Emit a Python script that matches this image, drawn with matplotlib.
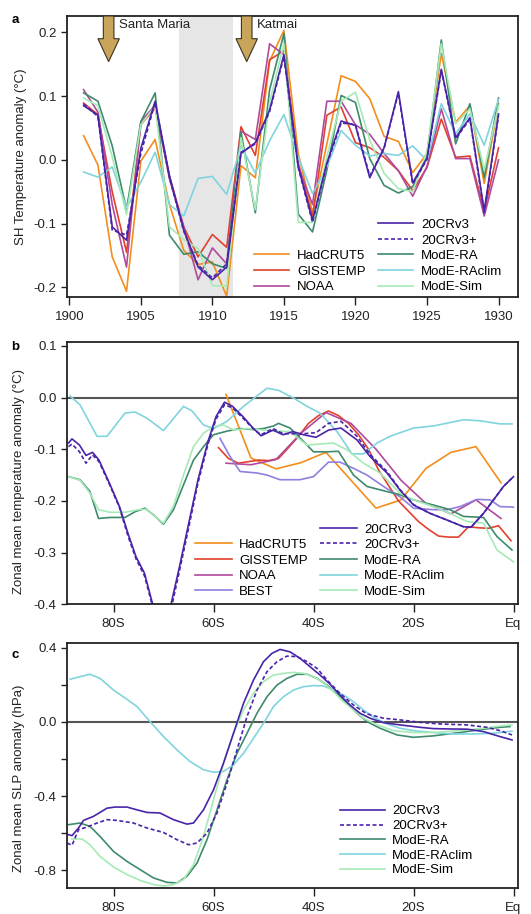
import matplotlib
matplotlib.use('Agg')
import matplotlib.pyplot as plt
from matplotlib.lines import Line2D
from matplotlib.patches import FancyArrow
from matplotlib.ticker import FixedLocator, FuncFormatter

plt.rcParams['font.family'] = ['Liberation Sans', 'DejaVu Sans']
plt.rcParams['font.size'] = 9.5
plt.rcParams['axes.unicode_minus'] = False

# ---- panel a: SH annual temperature anomaly 1901-1930 ----
years = list(range(1901, 1931))
a_hadcrut5 = [0.038, -0.008, -0.152, -0.206, -0.002, 0.032, -0.07, -0.142, -0.164, -0.160, -0.214,
              -0.009, -0.028, 0.155, 0.203, 0.01, -0.083, 0.025, 0.132, 0.123, 0.096, 0.037, 0.029,
              -0.02, 0.01, 0.167, 0.059, 0.085, -0.037, 0.088]
a_gisstemp = [0.089, 0.071, -0.05, -0.145, 0.055, 0.082, -0.025, -0.105, -0.152, -0.117, -0.137,
              0.052, 0.007, 0.157, 0.171, -0.005, -0.09, 0.07, 0.083, 0.027, 0.019, 0.004, -0.017,
              -0.048, -0.012, 0.064, 0.004, 0.006, -0.08, 0.019]
a_noaa = [0.11, 0.075, -0.07, -0.168, 0.06, 0.086, -0.03, -0.105, -0.188, -0.138, -0.163,
          0.045, 0.032, 0.182, 0.165, -0.01, -0.07, 0.092, 0.092, 0.055, 0.04, 0.01, -0.017,
          -0.057, -0.01, 0.08, 0.002, 0.002, -0.088, 0.0]
a_20crv3 = [0.085, 0.07, -0.105, -0.126, 0.018, 0.092, -0.025, -0.11, -0.168, -0.188, -0.168,
            0.01, 0.027, 0.078, 0.165, -0.01, -0.095, -0.005, 0.061, 0.054, -0.028, 0.019, 0.107,
            -0.036, 0.003, 0.142, 0.035, 0.066, -0.08, 0.072]
a_20crv3p = [0.088, 0.068, -0.11, -0.118, 0.01, 0.09, -0.028, -0.112, -0.165, -0.185, -0.163,
             0.012, 0.025, 0.076, 0.162, -0.012, -0.098, -0.007, 0.058, 0.055, -0.025, 0.018, 0.105,
             -0.038, 0.001, 0.14, 0.033, 0.064, -0.083, 0.07]
a_modera = [0.105, 0.092, 0.022, -0.078, 0.06, 0.105, -0.118, -0.148, -0.144, -0.163, -0.17,
            0.044, -0.083, 0.11, 0.198, -0.085, -0.113, -0.016, 0.101, 0.09, 0.002, -0.04, -0.052,
            -0.042, 0.004, 0.188, 0.025, 0.088, -0.028, 0.097]
a_moderaclim = [-0.019, -0.027, -0.011, -0.075, -0.035, 0.012, -0.07, -0.088, -0.029, -0.026, -0.054,
                0.022, -0.021, 0.03, 0.071, 0.004, -0.053, -0.011, 0.046, 0.023, 0.006, 0.01, 0.007,
                0.022, -0.001, 0.088, 0.041, 0.072, 0.023, 0.095]
a_modesim = [0.097, 0.085, 0.005, -0.086, 0.055, 0.085, -0.105, -0.125, -0.139, -0.197, -0.198,
             0.035, -0.078, 0.09, 0.182, -0.098, -0.098, 0.005, 0.092, 0.106, 0.031, -0.021, -0.045,
             -0.05, 0.013, 0.182, 0.057, 0.08, -0.016, 0.085]

# ---- panel b: zonal mean temperature anomaly ----
b_lat_had = [-57.5, -52.5, -47.5, -42.5, -37.5, -32.5, -27.5, -22.5, -17.5, -12.5, -7.5, -2.5]
b_hadcrut5 = [0.006, -0.117, -0.138, -0.126, -0.106, -0.16, -0.214, -0.198, -0.137, -0.106, -0.095, -0.165]
b_lat_giss = [-59, -57, -55, -53, -51, -49, -47, -45, -43, -41, -39, -37, -35, -33, -31, -29, -27,
              -25, -23, -21, -19, -17, -15, -13, -11, -9, -7, -5, -3, -0.5]
b_gisstemp = [-0.097, -0.118, -0.127, -0.124, -0.121, -0.122, -0.118, -0.097, -0.075, -0.05, -0.035,
              -0.026, -0.035, -0.05, -0.072, -0.1, -0.14, -0.17, -0.2, -0.22, -0.24, -0.255, -0.268,
              -0.27, -0.27, -0.25, -0.252, -0.253, -0.248, -0.277]
b_lat_noaa = [-57.5, -52.5, -47.5, -42.5, -37.5, -32.5, -27.5, -22.5, -17.5, -12.5, -7.5, -2.5]
b_noaa = [-0.127, -0.13, -0.12, -0.069, -0.029, -0.05, -0.1, -0.16, -0.205, -0.225, -0.198, -0.234]
b_lat_best = [-58.7, -56.7, -54.7, -51.3, -49.3, -46.7, -42.7, -40, -37, -34.7, -32, -29.3, -26,
              -22.7, -20, -16, -13.3, -10.7, -7.3, -4.7, -2.7, 0]
b_best = [-0.079, -0.114, -0.143, -0.146, -0.15, -0.159, -0.159, -0.153, -0.125, -0.125, -0.137,
          -0.15, -0.172, -0.192, -0.214, -0.217, -0.217, -0.211, -0.197, -0.198, -0.211, -0.212]
b_lat_20cr = [-89, -88.3, -86.8, -85.5, -84.2, -82.9, -80.8, -78.8, -77.1, -75.5, -73.8, -72.3, -70.3,
              -68.5, -66.8, -65.1, -63.1, -61.1, -59.5, -57.8, -56.2, -54.1, -52.1, -50.5, -48.1,
              -46.1, -44.1, -42, -39.5, -37, -34.5, -31.3, -28.7, -25.3, -22.7, -20, -16.7, -13.3,
              -10, -8.5, -6, -4, -2, 0]
b_20crv3 = [-0.088, -0.08, -0.092, -0.112, -0.106, -0.121, -0.166, -0.211, -0.263, -0.308, -0.34,
            -0.395, -0.46, -0.40, -0.327, -0.25, -0.159, -0.085, -0.037, -0.009, -0.017, -0.037,
            -0.059, -0.074, -0.063, -0.072, -0.066, -0.072, -0.077, -0.063, -0.059, -0.082, -0.114,
            -0.146, -0.179, -0.208, -0.224, -0.237, -0.25, -0.251, -0.224, -0.198, -0.172, -0.153]
b_20crv3p = [-0.095, -0.09, -0.105, -0.127, -0.111, -0.124, -0.168, -0.213, -0.268, -0.312, -0.345,
             -0.40, -0.465, -0.41, -0.335, -0.258, -0.165, -0.09, -0.042, -0.014, -0.02, -0.04,
             -0.06, -0.072, -0.06, -0.07, -0.07, -0.07, -0.068, -0.05, -0.046, -0.075, -0.11,
             -0.143, -0.178, -0.207, -0.224, -0.237, -0.25, -0.251, -0.224, -0.198, -0.172, -0.153]
b_lat_modera = [-89, -86.7, -84.7, -83, -80.7, -77.7, -75.7, -73.7, -72, -70, -68, -66, -64, -62, -60,
                -57.3, -54.7, -52, -50, -48, -47, -44.7, -42.5, -40, -37.3, -35, -32, -29.3, -25.3,
                -22.7, -20, -16, -12.7, -10, -6, -3.3, -0.3]
b_modera = [-0.153, -0.159, -0.182, -0.234, -0.232, -0.232, -0.221, -0.214, -0.227, -0.245, -0.217,
            -0.169, -0.121, -0.095, -0.072, -0.065, -0.06, -0.062, -0.06, -0.055, -0.05, -0.059,
            -0.08, -0.105, -0.105, -0.104, -0.15, -0.172, -0.182, -0.188, -0.198, -0.208, -0.217,
            -0.23, -0.232, -0.269, -0.295]
b_lat_clim = [-88.7, -86.7, -83.3, -81.3, -77.7, -75.7, -73.3, -70, -66, -64.3, -62, -60, -57.3, -54,
              -49.3, -47, -44, -41.3, -38.7, -35.3, -32.3, -30, -27.3, -24.7, -20, -16, -10, -6.7,
              -2.7, -0.3]
b_moderaclim = [0.003, -0.014, -0.075, -0.075, -0.03, -0.028, -0.04, -0.064, -0.017, -0.026, -0.053,
                -0.06, -0.046, -0.017, 0.018, 0.014, -0.001, -0.017, -0.03, -0.066, -0.109, -0.109,
                -0.088, -0.075, -0.059, -0.055, -0.043, -0.045, -0.051, -0.051]
b_lat_sim = [-89, -86.7, -84.7, -83, -80.7, -77.7, -75, -73.3, -72, -70, -68, -66, -64, -62, -60, -58,
             -56, -53.3, -50, -47, -44.7, -41.3, -38.7, -36, -33.3, -30, -26.7, -22.7, -20, -16,
             -12.7, -9.3, -6, -3.3, 0]
b_modesim = [-0.153, -0.16, -0.185, -0.217, -0.222, -0.222, -0.217, -0.216, -0.228, -0.243, -0.21,
             -0.15, -0.095, -0.069, -0.056, -0.053, -0.063, -0.06, -0.063, -0.065, -0.066, -0.092,
             -0.09, -0.088, -0.101, -0.127, -0.146, -0.185, -0.198, -0.211, -0.224, -0.24, -0.243,
             -0.295, -0.318]

# ---- panel c: zonal mean SLP anomaly ----
c_lat_20cr = [-89, -88.3, -87, -86, -84, -81.3, -79.7, -77.3, -75.3, -73.3, -70.7, -68, -65.3, -64,
              -62, -60, -58, -56, -54, -52, -50, -48.3, -46.7, -44.7, -42.7, -40.7, -38.7, -36.7,
              -34.7, -32.7, -30.7, -28.7, -26, -22.7, -18.7, -16, -12.7, -9.3, -6, -2.7, -0.3]
c_20crv3 = [-0.608, -0.613, -0.572, -0.531, -0.509, -0.465, -0.459, -0.459, -0.474, -0.488, -0.491,
            -0.527, -0.551, -0.545, -0.474, -0.366, -0.222, -0.061, 0.1, 0.226, 0.325, 0.37, 0.391,
            0.378, 0.343, 0.298, 0.253, 0.204, 0.145, 0.091, 0.047, 0.02, -0.004, -0.016, -0.029,
            -0.036, -0.038, -0.039, -0.052, -0.079, -0.097]
c_lat_20crp = [-89.3, -88.3, -87, -85.3, -83.3, -81.3, -79.3, -76, -73.3, -70, -67.3, -65, -63.3,
               -61.3, -59.3, -57.3, -55.3, -53.3, -51.3, -49.3, -47.3, -45.3, -43.3, -41.3, -39.3,
               -37, -34.7, -32, -29.3, -26, -22.7, -18.7, -14.7, -9.3, -5.3, -2.7, -0.3]
c_20crv3p = [-0.653, -0.665, -0.581, -0.567, -0.545, -0.527, -0.531, -0.545, -0.572, -0.596, -0.635,
             -0.662, -0.653, -0.599, -0.491, -0.33, -0.151, 0.029, 0.172, 0.271, 0.325, 0.355,
             0.352, 0.325, 0.289, 0.217, 0.154, 0.091, 0.043, 0.02, 0.011, -0.002, -0.011, -0.016,
             -0.029, -0.047, -0.07]
c_lat_modera = [-89, -86.7, -84.7, -82.7, -80, -77.3, -74.7, -72, -69.3, -67.3, -65.3, -63.3, -61.3,
                -59.3, -57.3, -55.3, -53.3, -51.3, -49.3, -47.3, -45.3, -43.3, -41.3, -39.3, -37.3,
                -35.3, -33.3, -31.3, -29.3, -26.7, -23.3, -20, -16, -10.7, -6, -2.7, -0.7]
c_modera = [-0.554, -0.545, -0.563, -0.617, -0.698, -0.752, -0.796, -0.841, -0.865, -0.868, -0.832,
            -0.761, -0.635, -0.474, -0.312, -0.169, -0.061, 0.047, 0.136, 0.199, 0.235, 0.257,
            0.257, 0.235, 0.199, 0.154, 0.1, 0.047, 0.002, -0.034, -0.07, -0.083, -0.075, -0.057,
            -0.039, -0.029, -0.025]
c_lat_clim = [-88.7, -86.7, -84.7, -82.7, -80, -77.3, -75.3, -72.7, -70, -67.3, -64.7, -62, -60, -58,
              -56, -54, -52, -50, -48, -46, -44, -42, -40, -38, -36, -34, -32, -30, -28, -25.3,
              -22.7, -20, -16, -12, -8, -4, -0.3]
c_moderaclim = [0.23, 0.244, 0.257, 0.235, 0.172, 0.122, 0.083, 0.002, -0.079, -0.151, -0.213,
                -0.258, -0.271, -0.267, -0.231, -0.169, -0.088, -0.007, 0.083, 0.136, 0.172, 0.19,
                0.196, 0.194, 0.172, 0.145, 0.109, 0.065, 0.025, -0.011, -0.034, -0.047, -0.057,
                -0.065, -0.065, -0.061, -0.05]
c_lat_sim = [-88.3, -86.3, -84.7, -82.7, -80, -77.3, -74.7, -72, -70, -68, -66, -64, -62, -60, -58,
             -56, -54, -52, -50, -48, -46, -44, -42, -40, -38, -36, -34, -32, -30, -27.3, -24, -20,
             -16, -10.7, -6, -2.7, -0.3]
c_modesim = [-0.631, -0.631, -0.662, -0.725, -0.782, -0.823, -0.854, -0.877, -0.885, -0.877, -0.85,
             -0.77, -0.617, -0.42, -0.222, -0.061, 0.065, 0.154, 0.217, 0.253, 0.262, 0.267, 0.262,
             0.244, 0.212, 0.163, 0.109, 0.065, 0.02, -0.016, -0.047, -0.057, -0.057, -0.047,
             -0.034, -0.022, -0.016]

colors = {
    'HadCRUT5': '#f28e1c',
    'GISSTEMP': '#e2412e',
    'NOAA': '#b04a9c',
    'BEST': '#8f7fe0',
    '20CRv3': '#4a24a8',
    'ModE-RA': '#3e8a6c',
    'ModE-RAclim': '#80d4de',
    'ModE-Sim': '#a6eab6',
}
dash = (0, (2.4, 1.5))
lw = 1.2
lat_ticks = [-80, -60, -40, -20, 0]
lat_labels = ['80S', '60S', '40S', '20S', 'Eq']

W, H = 531, 914
fig = plt.figure(figsize=(W / 100, H / 100), dpi=100)


def axes_px(x0, y0, x1, y1):
    return fig.add_axes([x0 / W, 1 - y1 / H, (x1 - x0) / W, (y1 - y0) / H])


def style(ax):
    for s in ax.spines.values():
        s.set_linewidth(1.3)
        s.set_color('#222222')
    ax.tick_params(direction='out', length=4.5, width=1.0, color='#222222',
                   labelcolor='#222222', pad=3)


blank = Line2D([], [], color='none', label=' ')

# ---------------- panel a ----------------
ax = axes_px(67, 16, 518, 297)
style(ax)
ax.axvspan(1907.7, 1911.45, color='#e6e6e6', lw=0, zorder=0)
ax.plot(years, a_hadcrut5, color=colors['HadCRUT5'], lw=lw, label='HadCRUT5')
ax.plot(years, a_gisstemp, color=colors['GISSTEMP'], lw=lw, label='GISSTEMP')
ax.plot(years, a_noaa, color=colors['NOAA'], lw=lw, label='NOAA')
ax.plot(years, a_modera, color=colors['ModE-RA'], lw=lw, label='ModE-RA')
ax.plot(years, a_moderaclim, color=colors['ModE-RAclim'], lw=lw, label='ModE-RAclim')
ax.plot(years, a_modesim, color=colors['ModE-Sim'], lw=lw, label='ModE-Sim')
ax.plot(years, a_20crv3, color=colors['20CRv3'], lw=lw, label='20CRv3')
ax.plot(years, a_20crv3p, color=colors['20CRv3'], lw=lw, ls=dash, label='20CRv3+')
ax.set_xlim(1899.84, 1931.36)
ax.set_ylim(-0.215, 0.2256)
ax.set_xticks(range(1900, 1931, 5))
ax.set_yticks([-0.2, -0.1, 0.0, 0.1, 0.2])
ax.yaxis.set_major_formatter(FuncFormatter(lambda v, p: '%.1f' % v))
ax.tick_params(axis='x', length=6, pad=4)

top = 0.2256
for xe, name, xt in [(1902.75, 'Santa Maria', 1903.5), (1912.4, 'Katmai', 1913.1)]:
    ax.add_patch(FancyArrow(xe, top, 0, -(top - 0.154), width=0.74, head_width=1.5,
                            head_length=0.036, length_includes_head=True,
                            facecolor='#c9a55c', edgecolor='#3b3322', lw=0.8, zorder=5))
    ax.text(xt, 0.2115, name, va='center', ha='left', fontsize=9.5, color='#222222')

h = {l.get_label(): l for l in ax.get_lines()}
order = [blank, blank, h['HadCRUT5'], h['GISSTEMP'], h['NOAA'],
         h['20CRv3'], h['20CRv3+'], h['ModE-RA'], h['ModE-RAclim'], h['ModE-Sim']]
ax.legend(handles=order, ncol=2, loc='lower right', bbox_to_anchor=(0.977, -0.005),
          frameon=False, handlelength=2.7, handletextpad=0.6, columnspacing=0.9,
          labelspacing=0.25, borderaxespad=0, fontsize=9.5)
fig.text(15 / W, 1 - 20 / H, 'a', weight='bold', ha='center', va='center', fontsize=9.5)
fig.text(21 / W, 1 - 157 / H, 'SH Temperature anomaly (°C)', rotation=90,
         ha='center', va='center', fontsize=9.5, color='#222222')

# ---------------- panel b ----------------
ax = axes_px(67, 341.7, 518, 604.3)
style(ax)
ax.axhline(0, color='#555555', lw=1.5, zorder=1)
ax.plot(b_lat_had, b_hadcrut5, color=colors['HadCRUT5'], lw=lw, label='HadCRUT5')
ax.plot(b_lat_giss, b_gisstemp, color=colors['GISSTEMP'], lw=lw, label='GISSTEMP')
ax.plot(b_lat_noaa, b_noaa, color=colors['NOAA'], lw=lw, label='NOAA')
ax.plot(b_lat_best, b_best, color=colors['BEST'], lw=lw, label='BEST')
ax.plot(b_lat_modera, b_modera, color=colors['ModE-RA'], lw=lw, label='ModE-RA')
ax.plot(b_lat_clim, b_moderaclim, color=colors['ModE-RAclim'], lw=lw, label='ModE-RAclim')
ax.plot(b_lat_sim, b_modesim, color=colors['ModE-Sim'], lw=lw, label='ModE-Sim')
ax.plot(b_lat_20cr, b_20crv3, color=colors['20CRv3'], lw=lw, label='20CRv3')
ax.plot(b_lat_20cr, b_20crv3p, color=colors['20CRv3'], lw=lw, ls=dash, label='20CRv3+')
ax.set_xlim(-89.3, 0.9)
ax.set_ylim(-0.4, 0.108)
ax.set_xticks(lat_ticks)
ax.set_xticklabels(lat_labels)
ax.set_yticks([-0.4, -0.3, -0.2, -0.1, 0.0, 0.1])
ax.yaxis.set_major_formatter(FuncFormatter(lambda v, p: '%.1f' % v))
ax.tick_params(axis='x', length=6, pad=4)
h = {l.get_label(): l for l in ax.get_lines()}
order = [blank, h['HadCRUT5'], h['GISSTEMP'], h['NOAA'], h['BEST'],
         h['20CRv3'], h['20CRv3+'], h['ModE-RA'], h['ModE-RAclim'], h['ModE-Sim']]
ax.legend(handles=order, ncol=2, loc='lower left', bbox_to_anchor=(0.272, 0.005),
          frameon=False, handlelength=2.8, handletextpad=0.55, columnspacing=0.9,
          labelspacing=0.25, borderaxespad=0, fontsize=9.5)
fig.text(15 / W, 1 - 347 / H, 'b', weight='bold', ha='center', va='center', fontsize=9.5)
fig.text(19 / W, 1 - 481 / H, 'Zonal mean temperature anomaly (°C)', rotation=90,
         ha='center', va='center', fontsize=9.5, color='#222222')

# ---------------- panel c ----------------
ax = axes_px(67, 643.3, 518, 888.3)
style(ax)
ax.axhline(0, color='#555555', lw=1.5, zorder=1)
ax.plot(c_lat_modera, c_modera, color=colors['ModE-RA'], lw=lw, label='ModE-RA')
ax.plot(c_lat_clim, c_moderaclim, color=colors['ModE-RAclim'], lw=lw, label='ModE-RAclim')
ax.plot(c_lat_sim, c_modesim, color=colors['ModE-Sim'], lw=lw, label='ModE-Sim')
ax.plot(c_lat_20cr, c_20crv3, color=colors['20CRv3'], lw=lw, label='20CRv3')
ax.plot(c_lat_20crp, c_20crv3p, color=colors['20CRv3'], lw=lw, ls=dash, label='20CRv3+')
ax.set_xlim(-89.3, 0.9)
ax.set_ylim(-0.897, 0.424)
ax.set_xticks(lat_ticks)
ax.set_xticklabels(lat_labels)
ax.yaxis.set_major_locator(FixedLocator([-0.8, -0.6, -0.4, -0.2, 0.0, 0.2, 0.4]))
ax.yaxis.set_major_formatter(FuncFormatter(
    lambda v, p: ('%.1f' % v) if abs(round(v / 0.4) * 0.4 - v) < 1e-6 else ''))
ax.tick_params(axis='x', length=6, pad=4)
h = {l.get_label(): l for l in ax.get_lines()}
order = [h['20CRv3'], h['20CRv3+'], h['ModE-RA'], h['ModE-RAclim'], h['ModE-Sim']]
ax.legend(handles=order, loc='lower left', bbox_to_anchor=(0.594, 0.027),
          frameon=False, handlelength=3.4, handletextpad=0.55,
          labelspacing=0.19, borderaxespad=0, fontsize=9.5)
fig.text(15 / W, 1 - 655 / H, 'c', weight='bold', ha='center', va='center', fontsize=9.5)
fig.text(19 / W, 1 - 778 / H, 'Zonal mean SLP anomaly (hPa)', rotation=90,
         ha='center', va='center', fontsize=9.5, color='#222222')

fig.savefig('out.png', dpi=100)
